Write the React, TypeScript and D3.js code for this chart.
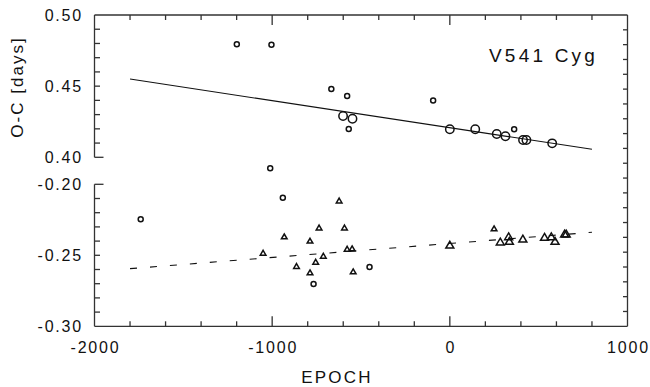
import * as d3 from "d3";

// O-C data, V541 Cyg (epoch, days)
const epochDomain = [-2000, 1000];
const upperDomain = [0.4, 0.5];
const lowerDomain = [-0.3, -0.2];

const xTickLabels = [-2000, -1000, 0, 1000];
const upperTickLabels = [0.5, 0.45, 0.4];
const lowerTickLabels = [-0.2, -0.25, -0.3];

const upperSmall: [number, number][] = [
  [-1199, 0.4794], [-1004, 0.4791], [-667, 0.448], [-578, 0.4431],
  [-569, 0.4199], [-94, 0.44], [362, 0.4197],
];
const upperLarge: [number, number][] = [
  [-601, 0.429], [-548, 0.4271], [0, 0.4197], [143, 0.4197], [264, 0.4164],
  [313, 0.4148], [412, 0.4122], [431, 0.4122], [576, 0.4098],
];
const lowerCircles: [number, number][] = [
  [-1740, -0.2246], [-1011, -0.1887], [-940, -0.2094], [-767, -0.2702], [-452, -0.2582],
];
const lowerSmallTri: [number, number][] = [
  [-623, -0.2116], [-736, -0.2306], [-593, -0.2306], [-932, -0.2369], [-787, -0.2399],
  [-1051, -0.2484], [-712, -0.2505], [-578, -0.2456], [-550, -0.2453], [-755, -0.2547],
  [-863, -0.2577], [-787, -0.2622], [-544, -0.2615], [249, -0.2312],
];
const lowerLargeTri: [number, number][] = [
  [0, -0.2428], [284, -0.2406], [331, -0.2369], [335, -0.2401], [411, -0.2385],
  [533, -0.2373], [571, -0.2369], [592, -0.2401], [646, -0.235], [655, -0.235],
];
const upperFit: [number, number][] = [[-1800, 0.455], [800, 0.4056]];
const lowerFit: [number, number][] = [[-1800, -0.2594], [800, -0.2338]];

const W = 650;
const H = 387;
const left = 94.5, right = 627.5, top = 15, bottom = 326.3;
const upperBottom = 157.3, lowerTop = 184.3;

const FONT = "'Liberation Sans', Arial, Helvetica, sans-serif";
const INK = "#111";
const AXIS = "#333";

const tri = (s: number) => `M0,${-s} L${s * 1.05},${s * 0.8} L${-s * 1.05},${s * 0.8} Z`;

export default function App() {
  const x = d3.scaleLinear().domain(epochDomain).range([left, right]);
  const yU = d3.scaleLinear().domain(upperDomain).range([upperBottom, top]);
  const yL = d3.scaleLinear().domain(lowerDomain).range([bottom, lowerTop]);
  const yRight = d3.scaleLinear().domain([0, 21]).range([bottom, top]);

  const xTicks = d3.range(-1800, 1000, 200);
  const uTicks = d3.range(41, 50).map((d) => d / 100);
  const lTicks = d3.range(-29, -20).map((d) => d / 100);
  const rTicks = d3.range(1, 21);

  const line = d3.line<[number, number]>();
  const upperPath = line(upperFit.map(([e, v]) => [x(e), yU(v)]));
  const lowerPath = line(lowerFit.map(([e, v]) => [x(e), yL(v)]));

  const textStyle = { fontFamily: FONT, fill: INK };

  return (
    <svg width={W} height={H} style={{ position: "absolute", left: 0, top: 0, background: "#fff" }}>
      {/* frame */}
      <g stroke={AXIS} strokeWidth={1.3} fill="none">
        <line x1={left} x2={right} y1={top} y2={top} />
        <line x1={left} x2={right} y1={bottom} y2={bottom} />
        <line x1={right} x2={right} y1={top} y2={bottom} />
        <line x1={left} x2={left} y1={top} y2={upperBottom} />
        <line x1={left} x2={left} y1={lowerTop} y2={bottom} />
        <line x1={left} x2={left + 9} y1={upperBottom} y2={upperBottom} />
        <line x1={left} x2={left + 9} y1={lowerTop} y2={lowerTop} />
        {xTicks.map((t) => {
          const len = t % 1000 === 0 ? 10 : 5;
          return (
            <g key={t}>
              <line x1={x(t)} x2={x(t)} y1={top} y2={top + len} />
              <line x1={x(t)} x2={x(t)} y1={bottom} y2={bottom - len} />
            </g>
          );
        })}
        {uTicks.map((t) => (
          <line key={"u" + t} x1={left} x2={left + 5.5} y1={yU(t)} y2={yU(t)} />
        ))}
        {lTicks.map((t) => (
          <line key={"l" + t} x1={left} x2={left + 5.5} y1={yL(t)} y2={yL(t)} />
        ))}
        {rTicks.map((t) => (
          <line key={"r" + t} x1={right} x2={right - 4.5} y1={yRight(t)} y2={yRight(t)} />
        ))}
      </g>

      {/* tick labels */}
      <g {...textStyle} fontSize={16} letterSpacing={1.8}>
        {upperTickLabels.map((t) => (
          <text key={"ul" + t} x={83} y={yU(t)} dy="0.36em" textAnchor="end">
            {t.toFixed(2)}
          </text>
        ))}
        {lowerTickLabels.map((t) => (
          <text key={"ll" + t} x={83} y={yL(t)} dy="0.36em" textAnchor="end">
            {t.toFixed(2)}
          </text>
        ))}
        {xTickLabels.map((t) => (
          <text key={"xl" + t} x={x(t) + 1} y={352.7} textAnchor="middle">
            {t}
          </text>
        ))}
      </g>

      {/* axis titles */}
      <text {...textStyle} fontSize={17} letterSpacing={2.2} x={337} y={382.5} textAnchor="middle">
        EPOCH
      </text>
      <text
        {...textStyle}
        fontSize={17}
        letterSpacing={2}
        textAnchor="middle"
        transform={`translate(23,87) rotate(-90)`}
      >
        O-C [days]
      </text>
      <text {...textStyle} fontSize={19} letterSpacing={3.2} x={489} y={62}>
        V541 Cyg
      </text>

      {/* fits */}
      <path d={upperPath ?? ""} stroke={INK} strokeWidth={1.1} fill="none" />
      <path d={lowerPath ?? ""} stroke={INK} strokeWidth={1.1} fill="none" strokeDasharray="7,13" />

      {/* markers */}
      <g stroke={INK} strokeWidth={1.5} fill="none">
        {upperSmall.map(([e, v], i) => (
          <circle key={"us" + i} cx={x(e)} cy={yU(v)} r={2.5} />
        ))}
        {upperLarge.map(([e, v], i) => (
          <circle key={"ul" + i} cx={x(e)} cy={yU(v)} r={4.2} />
        ))}
        {lowerCircles.map(([e, v], i) => (
          <circle key={"lc" + i} cx={x(e)} cy={yL(v)} r={2.5} />
        ))}
        {lowerSmallTri.map(([e, v], i) => (
          <path key={"lt" + i} d={tri(2.7)} transform={`translate(${x(e)},${yL(v)})`} />
        ))}
        {lowerLargeTri.map(([e, v], i) => (
          <path key={"lT" + i} d={tri(3.8)} transform={`translate(${x(e)},${yL(v)})`} />
        ))}
      </g>
    </svg>
  );
}
